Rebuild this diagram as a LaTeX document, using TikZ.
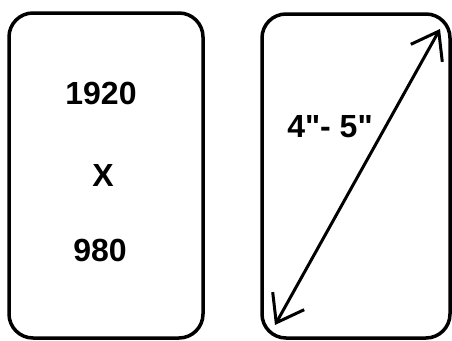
\documentclass[tikz,border=0pt]{standalone}
\usepackage{fontspec}
\setmainfont{Liberation Sans}[Ligatures=TeXOff]
\usetikzlibrary{arrows.meta}

\begin{document}
\begin{tikzpicture}[x=1pt,y=-1pt,
  phone/.style={draw,line width=3.5pt,rounded corners=24pt,inner sep=0pt},
  big/.style={font=\bfseries\fontsize{32}{32}\selectfont,inner sep=0pt}]
  \useasboundingbox(0,0)rectangle(452,340);
  % the two screens
  \node[phone,minimum width=194pt,minimum height=325pt](left)at(106,175.5){};
  \node[phone,minimum width=188pt,minimum height=324pt](right)at(356,176){};
  % resolution
  \node[big](w)at(101,93){1920};
  \node[big](by)at(103,175){X};
  \node[big](h)at(100,250){980};
  % diagonal
  \coordinate(lo)at(275,325);
  \coordinate(hi)at(440,29);
  \draw[{Straight Barb[length=25pt,width=36pt]}-{Straight Barb[length=25pt,width=36pt]},line width=3pt](lo)--(hi);
  \node[big](size)at(330,127){4"- 5"};
\end{tikzpicture}
\end{document}
